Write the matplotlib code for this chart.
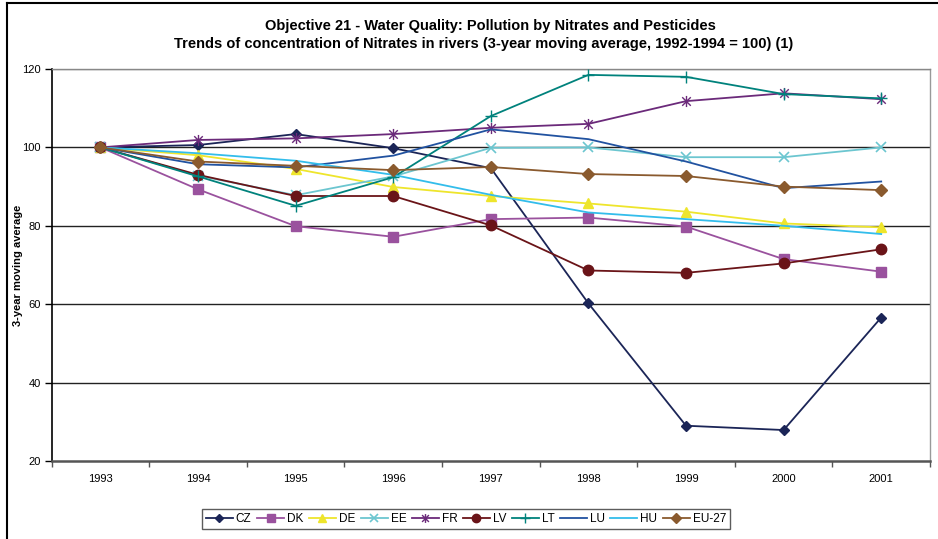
import matplotlib
matplotlib.use("Agg")
import matplotlib.pyplot as plt
from matplotlib.path import Path
from matplotlib.lines import Line2D
import numpy as np

plt.rcParams['font.family'] = ['Liberation Sans', 'DejaVu Sans']

years = ['1993', '1994', '1995', '1996', '1997', '1998', '1999', '2000', '2001']
CZ = [100, 100.6, 103.4, 99.8, 94.7, 60.2, 29.0, 27.9, 56.6]
DK = [100, 89.3, 79.9, 77.2, 81.7, 82.1, 79.8, 71.5, 68.3]
DE = [100, 98.0, 94.5, 89.9, 87.6, 85.7, 83.6, 80.6, 79.6]
EE = [100, 92.8, 87.8, 92.6, 99.9, 100.0, 97.5, 97.5, 100.0]
FR = [100, 101.9, 102.3, 103.4, 105.0, 106.0, 111.8, 113.8, 112.3]
LV = [100, 93.0, 87.6, 87.6, 80.1, 68.6, 68.0, 70.4, 74.0]
LT = [100, 92.6, 85.1, 92.4, 108.0, 118.5, 118.0, 113.6, 112.5]
LU = [100, 95.7, 94.9, 97.9, 104.6, 102.1, 96.4, 89.6, 91.3]
HU = [100, 98.5, 96.6, 93.0, 87.9, 83.4, 81.7, 80.0, 77.9]
EU27 = [100, 96.4, 95.3, 94.2, 95.0, 93.2, 92.7, 90.0, 89.1]

series_names = ['CZ', 'DK', 'DE', 'EE', 'FR', 'LV', 'LT', 'LU', 'HU', 'EU-27']
series_values = [CZ, DK, DE, EE, FR, LV, LT, LU, HU, EU27]

# Excel-style star marker: X plus vertical bar
star_path = Path(
    [(-1, -1), (1, 1), (-1, 1), (1, -1), (0, -1.3), (0, 1.3)],
    [Path.MOVETO, Path.LINETO, Path.MOVETO, Path.LINETO, Path.MOVETO, Path.LINETO])

styles = {
    'CZ':    dict(color='#1B2557', marker='D', ms=5.5),
    'DK':    dict(color='#9A529E', marker='s', ms=7),
    'DE':    dict(color='#EEE52C', marker='^', ms=7.5),
    'EE':    dict(color='#6CC6D0', marker='x', ms=7, mew=1.2),
    'FR':    dict(color='#6B2A7A', marker=star_path, ms=8, mew=1.0),
    'LV':    dict(color='#6A1418', marker='o', ms=7.5),
    'LT':    dict(color='#00827C', marker='+', ms=9, mew=1.0),
    'LU':    dict(color='#2152A0', marker=None, ms=0),
    'HU':    dict(color='#33BDEB', marker=None, ms=0),
    'EU-27': dict(color='#8A5A2E', marker='D', ms=6.5),
}

fig = plt.figure(figsize=(9.38, 5.39), dpi=100)
ax = fig.add_axes([51.7 / 938, 1 - 461 / 539, (930 - 51.7) / 938, (461 - 69) / 539])

x = np.arange(len(years))
handles = []
for name, vals in zip(series_names, series_values):
    st = styles[name]
    ln, = ax.plot(x, vals, color=st['color'], lw=1.3, marker=st['marker'],
                  ms=st['ms'], mew=st.get('mew', 1.0), mfc=st['color'], mec=st['color'],
                  label=name, zorder=3)
    handles.append(ln)

ax.set_xlim(-0.5, len(years) - 0.5)
ax.set_ylim(20, 120)
ax.set_yticks([20, 40, 60, 80, 100, 120])
ax.set_xticks(x)
ax.set_xticklabels(years)
ax.set_xticks(np.arange(-0.5, len(years) + 0.5, 1), minor=True)
ax.tick_params(axis='x', which='major', length=0, pad=9, labelsize=8)
ax.tick_params(axis='x', which='minor', length=4, width=1, color='#555555', direction='out')
ax.tick_params(axis='y', which='major', length=5, width=1, direction='out', labelsize=8, pad=3)

for yv in [40, 60, 80, 100]:
    ax.axhline(yv, color='#222222', lw=1.0, zorder=1)
ax.axhline(120, color='#888888', lw=1.0, zorder=1)

ax.spines['left'].set_color('black')
ax.spines['left'].set_linewidth(1.2)
ax.spines['bottom'].set_color('#555555')
ax.spines['bottom'].set_linewidth(1.8)
ax.spines['right'].set_color('#999999')
ax.spines['right'].set_linewidth(1.0)
ax.spines['top'].set_color('#888888')
ax.spines['top'].set_linewidth(1.0)

fig.text(490 / 938, 1 - 26 / 539, 'Objective 21 - Water Quality: Pollution by Nitrates and Pesticides',
         ha='center', va='center', fontsize=10.5, fontweight='bold')
fig.text(484 / 938, 1 - 44 / 539,
         'Trends of concentration of Nitrates in rivers (3-year moving average, 1992-1994 = 100) (1)',
         ha='center', va='center', fontsize=10.5, fontweight='bold')
fig.text(18 / 938, 1 - 265 / 539, '3-year moving average', rotation=90,
         ha='center', va='center', fontsize=8, fontweight='bold')

leg = fig.legend(handles=handles, labels=series_names, loc='center',
                 bbox_to_anchor=(466 / 938, 1 - 519 / 539), ncol=10, fontsize=8.5,
                 frameon=True, fancybox=False, edgecolor='#333333', handlelength=2.3,
                 handletextpad=0.25, columnspacing=0.45, borderpad=0.3, markerscale=0.8)
leg.get_frame().set_linewidth(1.0)

# outer frame (top and left edges visible)
fig.add_artist(Line2D([7 / 938, 7 / 938], [0, 1 - 3 / 539], transform=fig.transFigure,
                      color='black', lw=1.5))
fig.add_artist(Line2D([7 / 938, 1], [1 - 3 / 539, 1 - 3 / 539], transform=fig.transFigure,
                      color='black', lw=1.5))

fig.savefig('out.png', dpi=100)
